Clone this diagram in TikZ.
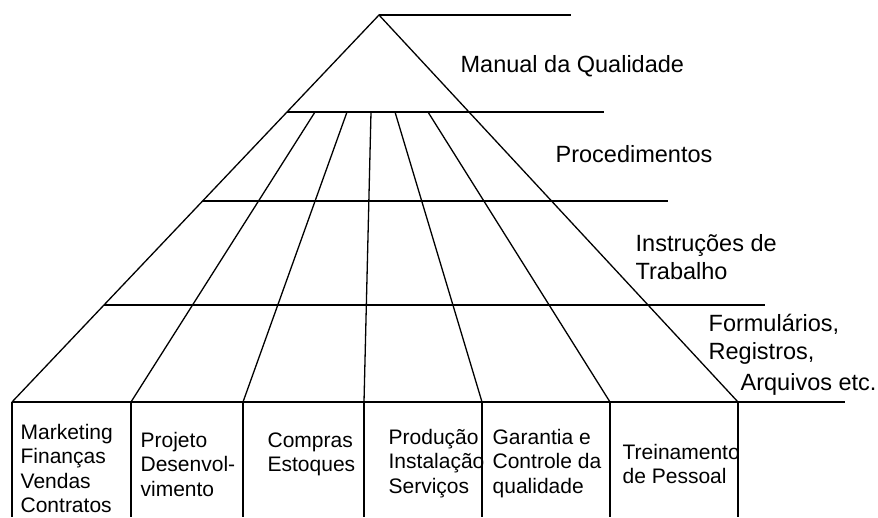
\documentclass[tikz,border=0pt]{standalone}
\usepackage{fontspec}
\setmainfont{Liberation Sans}
\usetikzlibrary{calc, positioning}

\begin{document}
\begin{tikzpicture}[x=1pt, y=-1pt, line width=1.3pt,
    rotulo/.style={anchor=base west, inner sep=0pt, align=left,
        font=\fontsize{23.5}{28}\selectfont},
    area/.style={anchor=base west, inner sep=0pt, align=left,
        font=\fontsize{21}{24.4}\selectfont}]
    \useasboundingbox (0,0) rectangle (878,517);
    % vertices of the pyramid
    \coordinate (topo) at (379,15);
    \coordinate (cantoE) at (12,402);
    \coordinate (cantoD) at (738,402);
    \draw (cantoE) -- (topo) -- (cantoD);
    \draw (topo) -- (571,15);
    % levels
    \foreach \t/\fim [count=\i] in {0.2506/604, 0.4806/668, 0.7494/765, 1/845} {
        \coordinate (n\i) at ($(topo)!\t!(cantoE)$);
        \draw (n\i) -- (n\i -| \fim,0);
    }
    % department lines
    \foreach \a/\b [count=\i] in {315/131, 347/243, 371/364, 395/482, 428/610} {
        \coordinate (s\i) at (\a,112);
        \coordinate (c\i) at (\b,402);
        \draw (s\i) -- (c\i);
    }
    % columns of the base
    \foreach \p in {cantoE, c1, c2, c3, c4, c5, cantoD}
        \draw (\p) -- (\p |- 0,517);
    % level labels (base = last line)
    \node[rotulo] (manual) at (460,72) {Manual da Qualidade};
    \node[rotulo] (proced) at (555,162) {Procedimentos};
    \node[rotulo] (instr) at (635,279) {Instruções de\\Trabalho};
    \node[rotulo] (formul) at (708,390) {Formulários,\\Registros,\\[3pt]\hspace*{32pt}Arquivos etc.};
    % departments
    \node[area] (mkt) at (20,512.7) {Marketing\\Finanças\\Vendas\\Contratos};
    \node[area] (proj) at (140,496.3) {Projeto\\Desenvol-\\vimento};
    \node[area] (compr) at (267,471.9) {Compras\\Estoques};
    \node[area] (prod) at (388,493.3) {Produção\\Instalação\\Serviços};
    \node[area] (garan) at (492,493.3) {Garantia e\\Controle da\\qualidade};
    \node[area] (trein) at (622,483.9) {Treinamento\\de Pessoal};
\end{tikzpicture}
\end{document}
